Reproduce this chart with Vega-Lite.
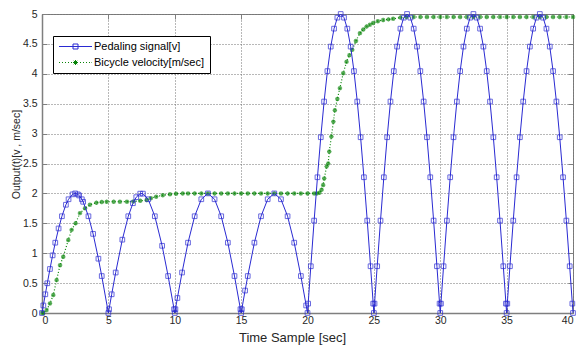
{
  "$schema": "https://vega.github.io/schema/vega-lite/v6.json",
  "autosize": "none",
  "width": 531,
  "height": 299,
  "padding": {"left": 42, "top": 14, "right": 4, "bottom": 32},
  "background": "white",
  "config": {
    "font": "Liberation Sans",
    "view": {"stroke": "#7f7f7f", "strokeWidth": 1},
    "axis": {
      "labelFont": "Liberation Sans", "labelFontSize": 10.5, "labelColor": "#262626",
      "titleFont": "Liberation Sans", "titleFontSize": 11, "titleFontWeight": "normal", "titleColor": "#262626",
      "gridColor": "#707070", "gridDash": [1, 2], "gridOpacity": 1, "gridWidth": 1,
      "domainColor": "#7f7f7f", "domainWidth": 1.5, "tickColor": "#7f7f7f", "tickSize": -5
    }
  },
  "datasets": {
    "pedal": [
      {"t":0,"v":0},{"t":0.1,"v":0.126},{"t":0.25,"v":0.313},{"t":0.4,"v":0.497},{"t":0.6,"v":0.736},{"t":0.8,"v":0.964},{"t":1.0,"v":1.176},{"t":1.25,"v":1.414},{"t":1.5,"v":1.618},{"t":1.8,"v":1.81},{"t":2.0,"v":1.902},{"t":2.3,"v":1.984},{"t":2.5,"v":2.0},{"t":2.7,"v":1.984},{"t":2.8,"v":1.965},{"t":3.0,"v":1.902},{"t":3.1,"v":1.86},{"t":3.5,"v":1.618},{"t":3.85,"v":1.323},{"t":4.25,"v":0.908},{"t":4.5,"v":0.618},{"t":5.0,"v":0},
      {"t":5.05,"v":0.063},{"t":5.25,"v":0.313},{"t":5.55,"v":0.677},{"t":6.05,"v":1.226},{"t":6.5,"v":1.618},{"t":6.85,"v":1.836},{"t":7.1,"v":1.937},{"t":7.4,"v":1.996},{"t":7.6,"v":1.996},{"t":8.0,"v":1.902},{"t":8.5,"v":1.618},{"t":9.05,"v":1.124},{"t":9.5,"v":0.618},{"t":9.95,"v":0.063},{"t":10.0,"v":0},
      {"t":10.05,"v":0.063},{"t":10.2,"v":0.251},{"t":10.55,"v":0.677},{"t":11.0,"v":1.176},{"t":11.5,"v":1.618},{"t":12.0,"v":1.902},{"t":12.5,"v":2.0},{"t":13.0,"v":1.902},{"t":13.5,"v":1.618},{"t":14.0,"v":1.176},{"t":14.5,"v":0.618},{"t":14.95,"v":0.063},{"t":15.0,"v":0},
      {"t":15.05,"v":0.063},{"t":15.3,"v":0.375},{"t":15.5,"v":0.618},{"t":16.0,"v":1.176},{"t":16.5,"v":1.618},{"t":17.0,"v":1.902},{"t":17.5,"v":2.0},{"t":18.0,"v":1.902},{"t":18.5,"v":1.618},{"t":19.0,"v":1.176},{"t":19.5,"v":0.618},{"t":19.9,"v":0.126},{"t":20.0,"v":0},
      {"t":20.05,"v":0.157},{"t":20.25,"v":0.782},{"t":20.5,"v":1.545},{"t":20.75,"v":2.27},{"t":21.0,"v":2.939},{"t":21.25,"v":3.536},{"t":21.5,"v":4.045},{"t":21.75,"v":4.455},{"t":22.0,"v":4.755},{"t":22.25,"v":4.939},{"t":22.5,"v":5.0},{"t":22.75,"v":4.939},{"t":23.0,"v":4.755},{"t":23.25,"v":4.455},{"t":23.5,"v":4.045},{"t":23.75,"v":3.536},{"t":24.0,"v":2.939},{"t":24.25,"v":2.27},{"t":24.5,"v":1.545},{"t":24.75,"v":0.782},{"t":24.95,"v":0.157},{"t":25.0,"v":0},
      {"t":25.05,"v":0.157},{"t":25.25,"v":0.782},{"t":25.5,"v":1.545},{"t":25.75,"v":2.27},{"t":26.0,"v":2.939},{"t":26.25,"v":3.536},{"t":26.5,"v":4.045},{"t":26.75,"v":4.455},{"t":27.0,"v":4.755},{"t":27.25,"v":4.939},{"t":27.5,"v":5.0},{"t":27.75,"v":4.939},{"t":28.0,"v":4.755},{"t":28.25,"v":4.455},{"t":28.5,"v":4.045},{"t":28.75,"v":3.536},{"t":29.0,"v":2.939},{"t":29.25,"v":2.27},{"t":29.5,"v":1.545},{"t":29.75,"v":0.782},{"t":29.95,"v":0.157},{"t":30.0,"v":0},
      {"t":30.05,"v":0.157},{"t":30.25,"v":0.782},{"t":30.5,"v":1.545},{"t":30.75,"v":2.27},{"t":31.0,"v":2.939},{"t":31.25,"v":3.536},{"t":31.5,"v":4.045},{"t":31.75,"v":4.455},{"t":32.0,"v":4.755},{"t":32.25,"v":4.939},{"t":32.5,"v":5.0},{"t":32.75,"v":4.939},{"t":33.0,"v":4.755},{"t":33.25,"v":4.455},{"t":33.5,"v":4.045},{"t":33.75,"v":3.536},{"t":34.0,"v":2.939},{"t":34.25,"v":2.27},{"t":34.5,"v":1.545},{"t":34.75,"v":0.782},{"t":34.95,"v":0.157},{"t":35.0,"v":0},
      {"t":35.05,"v":0.157},{"t":35.25,"v":0.782},{"t":35.5,"v":1.545},{"t":35.75,"v":2.27},{"t":36.0,"v":2.939},{"t":36.25,"v":3.536},{"t":36.5,"v":4.045},{"t":36.75,"v":4.455},{"t":37.0,"v":4.755},{"t":37.25,"v":4.939},{"t":37.5,"v":5.0},{"t":37.75,"v":4.939},{"t":38.0,"v":4.755},{"t":38.25,"v":4.455},{"t":38.5,"v":4.045},{"t":38.75,"v":3.536},{"t":39.0,"v":2.939},{"t":39.25,"v":2.27},{"t":39.5,"v":1.545},{"t":39.75,"v":0.782},{"t":39.95,"v":0.157},{"t":40.0,"v":0}
    ],
    "bike": [
      {"t":0,"v":0},{"t":0.1,"v":0.0},{"t":0.35,"v":0.05},{"t":0.6,"v":0.16},{"t":0.85,"v":0.3},{"t":1.1,"v":0.55},{"t":1.36,"v":0.8},{"t":1.6,"v":0.94},{"t":1.98,"v":1.22},{"t":2.23,"v":1.39},{"t":2.53,"v":1.5},{"t":2.86,"v":1.67},{"t":3.24,"v":1.75},{"t":3.61,"v":1.81},{"t":4.1,"v":1.845},{"t":4.5,"v":1.855},{"t":4.87,"v":1.86},{"t":5.4,"v":1.86},{"t":5.87,"v":1.86},{"t":6.4,"v":1.862},{"t":6.88,"v":1.866},{"t":7.4,"v":1.876},{"t":7.88,"v":1.89},{"t":8.2,"v":1.92},{"t":8.6,"v":1.945},{"t":9.1,"v":1.97},{"t":9.64,"v":1.985},{"t":10.1,"v":1.995},{"t":10.6,"v":2.0},
      {"t":11.0,"v":2.0},{"t":11.5,"v":2.0},{"t":12.0,"v":2.0},{"t":12.5,"v":2.0},{"t":13.0,"v":2.0},{"t":13.5,"v":2.0},{"t":14.0,"v":2.0},{"t":14.5,"v":2.0},{"t":15.0,"v":2.0},{"t":15.5,"v":2.0},{"t":16.0,"v":2.0},{"t":16.5,"v":2.0},{"t":17.0,"v":2.0},{"t":17.5,"v":2.0},{"t":18.0,"v":2.0},{"t":18.5,"v":2.0},{"t":19.0,"v":2.0},{"t":19.5,"v":2.0},{"t":20.0,"v":2.0},{"t":20.5,"v":2.0},{"t":20.7,"v":2.0},{"t":20.9,"v":2.01},
      {"t":21.06,"v":2.06},{"t":21.18,"v":2.14},{"t":21.26,"v":2.25},{"t":21.44,"v":2.45},{"t":21.56,"v":2.5},{"t":21.64,"v":2.7},{"t":21.8,"v":2.95},{"t":21.95,"v":3.2},{"t":22.06,"v":3.39},{"t":22.25,"v":3.58},{"t":22.44,"v":3.76},{"t":22.69,"v":4.01},{"t":22.94,"v":4.2},{"t":23.15,"v":4.31},{"t":23.37,"v":4.4},{"t":23.65,"v":4.55},{"t":23.95,"v":4.68},{"t":24.2,"v":4.74},{"t":24.45,"v":4.79},{"t":24.7,"v":4.82},{"t":24.95,"v":4.85},{"t":25.3,"v":4.88},{"t":25.7,"v":4.9},{"t":26.1,"v":4.91},{"t":26.45,"v":4.92},{"t":27.0,"v":4.94},{"t":27.46,"v":4.95},
      {"t":28.0,"v":4.95},{"t":28.5,"v":4.95},{"t":29.0,"v":4.95},{"t":29.5,"v":4.95},{"t":30.0,"v":4.95},{"t":30.5,"v":4.95},{"t":31.0,"v":4.95},{"t":31.5,"v":4.95},{"t":32.0,"v":4.95},{"t":32.5,"v":4.95},{"t":33.0,"v":4.95},{"t":33.5,"v":4.95},{"t":34.0,"v":4.95},{"t":34.5,"v":4.95},{"t":35.0,"v":4.95},{"t":35.5,"v":4.95},{"t":36.0,"v":4.95},{"t":36.5,"v":4.95},{"t":37.0,"v":4.95},{"t":37.5,"v":4.95},{"t":38.0,"v":4.95},{"t":38.5,"v":4.95},{"t":39.0,"v":4.95},{"t":39.5,"v":4.95},{"t":40.0,"v":4.95}
    ]
  },
  "resolve": {"axis": {"x": "independent", "y": "independent"}, "scale": {"x": "shared", "y": "shared", "color": "shared"}},
  "layer": [
    {
      "data": {"name": "bike"},
      "mark": {"type": "line", "strokeWidth": 1.2, "strokeDash": [1, 2]},
      "encoding": {
        "x": {"field": "t", "type": "quantitative", "scale": {"domain": [0, 40], "nice": false},
          "axis": {"orient": "bottom", "values": [0,5,10,15,20,25,30,35,40], "title": "Time Sample [sec]", "titleFontSize": 13, "labelPadding": 7, "titleX": 250, "titleY": 28, "titleBaseline": "alphabetic", "titleAlign": "center", "titleAnchor": null}},
        "y": {"field": "v", "type": "quantitative", "scale": {"domain": [0, 5], "nice": false},
          "axis": {"orient": "left", "values": [0,0.5,1,1.5,2,2.5,3,3.5,4,4.5,5], "format": "~g", "title": "Output(t)[v , m/sec]", "titleFontSize": 10.5, "labelPadding": 10, "titleX": -26, "titleY": 140, "titleBaseline": "middle", "titleAlign": "center", "titleAngle": -90}},
        "color": {"datum": "Bicycle velocity[m/sec]", "type": "nominal",
          "scale": {"domain": ["Pedaling signal[v]", "Bicycle velocity[m/sec]"], "range": ["#2a2ad2", "#0a850a"]},
          "legend": {
            "title": null, "orient": "none", "legendX": 11, "legendY": 22,
            "strokeColor": "#000000", "fillColor": "#ffffff", "padding": 5, "cornerRadius": 0,
            "symbolSize": 100, "symbolStrokeWidth": 1, "labelOffset": 25, "rowPadding": 4,
            "labelFont": "Liberation Sans", "labelFontSize": 11, "labelColor": "#000000",
            "encode": {"symbols": {"update": {
              "shape": {"signal": "datum.value === 'Pedaling signal[v]' ? 'M-0.9,0H5.7M1.9,-0.5H2.9V0.5H1.9Z' : 'M-0.9,0H-0.7M-0.3,0H-0.1M0.3,0H0.5M0.9,0H1.1M1.5,0H1.7M3.3,0H3.5M3.9,0H4.1M4.5,0H4.7M5.1,0H5.3M5.6,0H5.7M1.9,0H2.9M2.4,-0.5V0.5M2.05,-0.35L2.75,0.35M2.05,0.35L2.75,-0.35'"},
              "fill": {"value": "transparent"},
              "strokeDash": {"value": []},
              "opacity": {"value": 1}
            }}}
          }}
      }
    },
    {
      "data": {"name": "bike"},
      "mark": {"type": "point", "filled": false, "strokeWidth": 1.2, "size": 20, "shape": "M-1,0H1M0,-1V1M-0.7,-0.7L0.7,0.7M-0.7,0.7L0.7,-0.7"},
      "encoding": {
        "x": {"field": "t", "type": "quantitative", "axis": {"orient": "top", "labels": false, "title": null, "grid": false, "domain": false, "values": [0,5,10,15,20,25,30,35,40]}},
        "y": {"field": "v", "type": "quantitative", "axis": {"orient": "right", "labels": false, "title": null, "grid": false, "domain": false, "values": [0,0.5,1,1.5,2,2.5,3,3.5,4,4.5,5]}},
        "color": {"datum": "Bicycle velocity[m/sec]", "type": "nominal"}
      }
    },
    {
      "data": {"name": "pedal"},
      "mark": {"type": "line", "strokeWidth": 1},
      "encoding": {
        "x": {"field": "t", "type": "quantitative", "axis": null},
        "y": {"field": "v", "type": "quantitative", "axis": null},
        "color": {"datum": "Pedaling signal[v]", "type": "nominal"}
      }
    },
    {
      "data": {"name": "pedal"},
      "mark": {"type": "point", "shape": "square", "filled": false, "strokeWidth": 1, "size": 22},
      "encoding": {
        "x": {"field": "t", "type": "quantitative", "axis": null},
        "y": {"field": "v", "type": "quantitative", "axis": null},
        "color": {"datum": "Pedaling signal[v]", "type": "nominal"}
      }
    }
  ]
}
